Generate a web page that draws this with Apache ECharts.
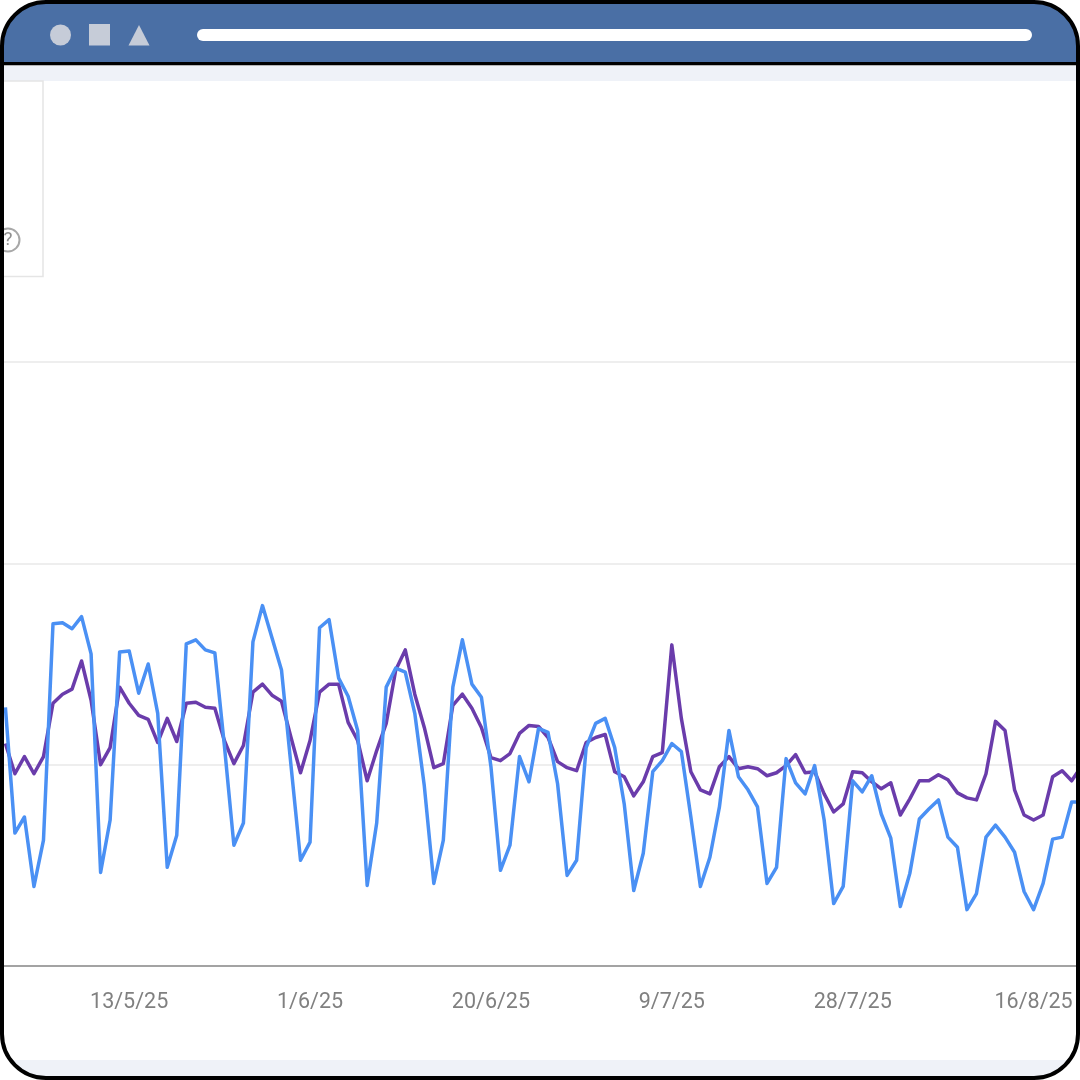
<!DOCTYPE html>
<html>
<head>
<meta charset="utf-8">
<title>chart</title>
<style>
html, body { margin: 0; padding: 0; background: #fff; overflow: hidden; }
#wrap { position: relative; width: 1080px; height: 1080px; overflow: hidden; }
/* 10px wider on both sides so the padding days fall off the picture */
#chart { position: absolute; left: -10px; top: 0; width: 1100px; height: 1080px; }
</style>
<script src="https://cdn.jsdelivr.net/npm/echarts@6/dist/echarts.min.js"></script>
</head>
<body>
<div id="wrap"><div id="chart"></div></div>
<script>
//first day of the list, the day before and the day after only pad the axis
var firstDay = Date.UTC(2025, 3, 29);
var dayCount = 115;
var tickLabels = ['13/5/25', '1/6/25', '20/6/25', '9/7/25', '28/7/25', '16/8/25'];
var yTicks = [0, 600, 200];

var blueValues = [null,
	257, 132, 148, 79, 125, 340, 341, 335, 347, 310, 93, 145, 312, 313, 271, 300, 251, 98, 130,
	320, 324, 314, 311, 219, 120, 142, 322, 358, 326, 294, 199, 105, 123, 336, 344, 286, 268, 234,
	80, 142, 277, 296, 292, 251, 179, 82, 125, 277, 324, 280, 267, 198, 95, 120, 208, 183, 236,
	232, 181, 90, 105, 217, 241, 246, 217, 161, 75, 112, 193, 204, 221, 213, 148, 79, 108,
	158, 234, 188, 175, 158, 82, 98, 206, 182, 171, 199, 145, 62, 79, 184, 173, 189, 151, 127,
	59, 92, 146, 156, 165, 128, 118, 56, 72, 128, 140, 128, 113, 74, 56, 82, 126, 128, 163, 163
];
var purpleValues = [null,
	221, 191, 208, 191, 208, 261, 270, 275, 303, 264, 200, 217, 277, 261, 249, 245, 222, 246, 223,
	261, 262, 257, 256, 224, 201, 219, 272, 280, 269, 263, 227, 192, 224, 272, 280, 280, 242, 224,
	184, 214, 241, 294, 314, 270, 237, 197, 201, 259, 270, 256, 237, 207, 204, 211, 231, 239, 238,
	227, 203, 197, 194, 222, 227, 230, 193, 188, 169, 183, 208, 212, 319, 246, 193, 175, 171,
	198, 208, 196, 198, 196, 189, 192, 199, 210, 192, 193, 171, 153, 161, 193, 192, 183, 176, 182,
	150, 166, 184, 184, 190, 185, 172, 167, 165, 191, 243, 234, 175, 150, 145, 150, 188, 194, 184, 198
];

var categories = [];
for(var i = 0; i < dayCount; i++) {
	var d = new Date(firstDay + i * 86400000);
	categories.push(d.getUTCDate() + '/' + (d.getUTCMonth() + 1) + '/' + String(d.getUTCFullYear()).slice(-2));
}

var myChart = echarts.init(document.getElementById("chart"));
myChart.setOption({
	animation: false,
	grid: {
		left: 5.88,
		right: 8.8,
		top: 362,
		bottom: 114
	},
	xAxis: {
		type: 'category',
		boundaryGap: false,
		data: categories,
		axisLine: {
			lineStyle: { color: '#a3a3a3', width: 2 }
		},
		axisTick: { show: false },
		axisLabel: {
			color: '#808080',
			fontFamily: 'Roboto',
			fontSize: 21.5,
			margin: 26,
			hideOverlap: false,
			interval: function(index, value) {
				return tickLabels.indexOf(value) >= 0;
			}
		},
		splitLine: { show: false }
	},
	yAxis: {
		type: 'value',
		min: yTicks[0],
		max: yTicks[1],
		interval: yTicks[2],
		axisLine: { show: false },
		axisTick: { show: false },
		axisLabel: { show: false },
		splitLine: {
			lineStyle: { color: '#eeeeee', width: 2 }
		}
	},
	series: [{
		name: 'purple',
		type: 'line',
		data: purpleValues,
		showSymbol: false,
		lineStyle: { color: '#6a3cab', width: 3.5, join: 'round' },
		z: 3
	}, {
		name: 'blue',
		type: 'line',
		data: blueValues,
		showSymbol: false,
		lineStyle: { color: '#4a90f4', width: 3.5, join: 'round' },
		z: 4
	}],
	//browser window around the chart
	graphic: {
		elements: [{
			type: 'group',
			x: 10,
			children: [
				{ type: 'rect', z: -10, silent: true, shape: { x: 2, y: 2, width: 1076, height: 1076, r: 44 }, style: { fill: '#eff2f8' } },
				{ type: 'rect', z: -9, silent: true, shape: { x: 3, y: 81, width: 1074, height: 979 }, style: { fill: '#ffffff' } },
				{ type: 'rect', z: -8, silent: true, shape: { x: 2, y: 81, width: 41, height: 195.5 }, style: { fill: '#ffffff', stroke: '#e5e5e5', lineWidth: 1.5 } },
				{ type: 'circle', z: -7, silent: true, shape: { cx: 8, cy: 240, r: 11.5 }, style: { fill: '#ffffff', stroke: '#a8a8a8', lineWidth: 2 } },
				{ type: 'text', z: -6, silent: true, style: { x: 8, y: 240, text: '?', fill: '#909090', font: '19px Roboto', align: 'center', verticalAlign: 'middle' } },
				{ type: 'rect', z: 100, silent: true, shape: { x: 2, y: 2, width: 1076, height: 61, r: [44, 44, 0, 0] }, style: { fill: '#4a6fa5' } },
				{ type: 'rect', z: 101, silent: true, shape: { x: 3, y: 62, width: 1074, height: 3 }, style: { fill: '#000000' } },
				{ type: 'rect', z: 101, silent: true, shape: { x: 3, y: 65, width: 1074, height: 1 }, style: { fill: '#b5b5b5' } },
				{ type: 'circle', z: 101, silent: true, shape: { cx: 60.5, cy: 35, r: 10.5 }, style: { fill: '#c6ccd8' } },
				{ type: 'rect', z: 101, silent: true, shape: { x: 89, y: 24, width: 21, height: 21.5 }, style: { fill: '#c6ccd8' } },
				{ type: 'polygon', z: 101, silent: true, shape: { points: [[139, 25], [149.5, 45.5], [128.5, 45.5]] }, style: { fill: '#c6ccd8' } },
				{ type: 'rect', z: 101, silent: true, shape: { x: 197, y: 29, width: 835, height: 12, r: 6 }, style: { fill: '#ffffff' } },
				{ type: 'rect', z: 102, silent: true, shape: { x: 2, y: 2, width: 1076, height: 1076, r: 44 }, style: { fill: 'none', stroke: '#000000', lineWidth: 4 } }
			]
		}]
	}
});
</script>
</body>
</html>
